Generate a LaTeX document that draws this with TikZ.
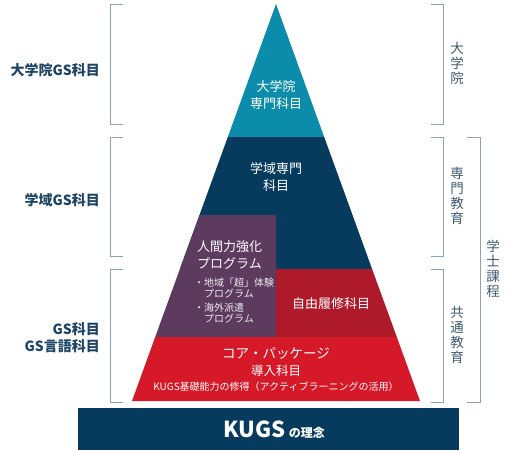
\documentclass[tikz,border=0pt]{standalone}
\usepackage{fontspec}
\setmainfont{Noto Sans CJK JP}
\usepackage{tikz}
\usetikzlibrary{positioning}
\definecolor{gsteal}{HTML}{0C8CAB}
\definecolor{gsnavy}{HTML}{073B5D}
\definecolor{gspurple}{HTML}{5D3B5F}
\definecolor{gscrimson}{HTML}{AF1A2B}
\definecolor{gsred}{HTML}{D51928}
\definecolor{bracegray}{HTML}{8AA3B5}
\definecolor{labelblue}{HTML}{1E4566}
\definecolor{sideblue}{HTML}{3F5A72}

\begin{document}
\begin{tikzpicture}[x=1pt,y=-1pt,
  lbl/.style={font=\fontsize{14}{17}\selectfont\bfseries, text=labelblue, align=right, anchor=east, inner sep=0pt},
  vert/.style={font=\fontsize{13.5}{15}\selectfont, text=sideblue, align=center, inner sep=0pt},
  intext/.style={font=\fontsize{13}{17.5}\selectfont, text=white, align=center, inner sep=0pt},
  smalltext/.style={font=\fontsize{10}{11}\selectfont, text=white!90!gspurple, align=left, inner sep=0pt},
  brace/.style={draw=bracegray, line width=1pt}]
\useasboundingbox (0,0) rectangle (506,450);
% pyramid layers
\fill[gsteal] (276,4) -- (324.2,137) -- (227.8,137) -- cycle;
\fill[gsnavy] (227.8,137) -- (324.2,137) -- (372.1,269) -- (179.9,269) -- cycle;
\fill[gspurple] (199.5,215) -- (276,215) -- (276,337) -- (155.2,337) -- cycle;
\fill[gscrimson] (276,269) -- (372.1,269) -- (396.8,337) -- (276,337) -- cycle;
\fill[gsred] (155.2,337) -- (396.8,337) -- (420,401) -- (132,401) -- cycle;
\fill[gsnavy] (78,408) rectangle (459,450);
% brackets, left
\draw[brace] (123,4) -- (110,4) -- (110,124) -- (123,124);
\draw[brace] (123,137) -- (110,137) -- (110,256) -- (123,256);
\draw[brace] (123,269) -- (110,269) -- (110,402) -- (123,402);
% brackets, right
\draw[brace] (431,4) -- (443,4) -- (443,124) -- (431,124);
\draw[brace] (431,137) -- (443,137) -- (443,256) -- (431,256);
\draw[brace] (431,269) -- (443,269) -- (443,402) -- (431,402);
\draw[brace] (467,137) -- (480,137) -- (480,402) -- (467,402);
% left labels
\node[lbl] (gradgs) at (100,70) {大学院GS科目};
\node[lbl] (fieldgs) at (100,200) {学域GS科目};
\node[lbl] (gs) at (100,338) {GS科目\\GS言語科目};
% right labels
\node[vert] (grad) at (457,63) {大\\学\\院};
\node[vert] (major) at (457,196) {専\\門\\教\\育};
\node[vert] (common) at (457,335) {共\\通\\教\\育};
\node[vert] (bachelor) at (493,269) {学\\士\\課\\程};
% texts in the pyramid
\node[intext] (gradsub) at (276,95) {大学院\\専門科目};
\node[intext] (fieldsub) at (276,177) {学域専門\\科目};
\node[intext, align=left, anchor=west] (human) at (197,255) {人間力強化\\プログラム};
\node[smalltext, anchor=west] (local) at (194,288) {・地域「超」体験\\\hspace{10pt}プログラム};
\node[smalltext, anchor=west] (abroad) at (194,313) {・海外派遣\\\hspace{10pt}プログラム};
\node[intext] (free) at (331,304) {自由履修科目};
\node[intext, font=\fontsize{13.5}{17}\selectfont] (core) at (276,354) {コア・パッケージ};
\node[intext, font=\fontsize{12.5}{15}\selectfont] (intro) at (276,371) {導入科目};
\node[intext, font=\fontsize{10}{12}\selectfont] (basic) at (276,387) {KUGS基礎能力の修得（アクティブラーニングの活用）};
\node[text=white, inner sep=0pt] (kugs) at (274,430) {\fontsize{22}{22}\selectfont\bfseries KUGS\,\fontsize{12}{12}\selectfont の理念};
\end{tikzpicture}
\end{document}
